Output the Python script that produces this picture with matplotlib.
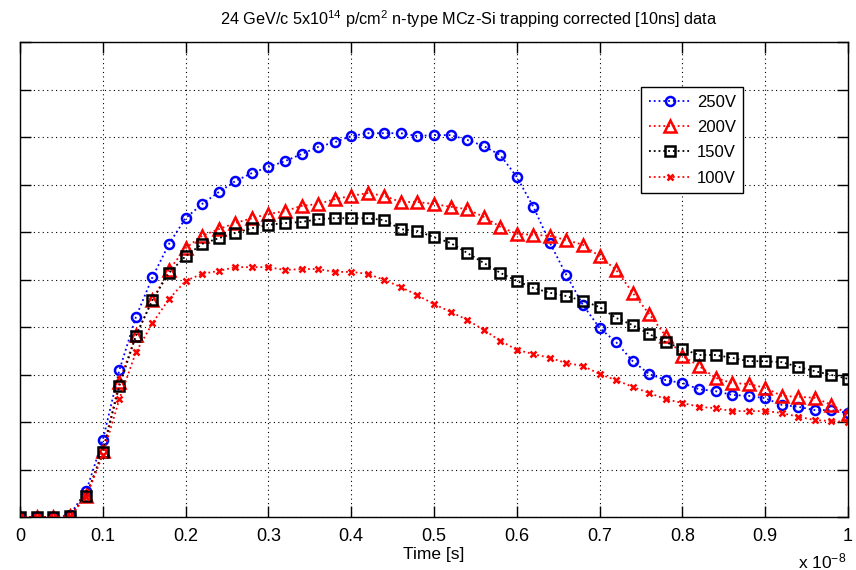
import numpy as np
import matplotlib
matplotlib.use('Agg')
import matplotlib.pyplot as plt
from matplotlib.ticker import FuncFormatter

plt.rcParams['font.family'] = ['Liberation Sans', 'DejaVu Sans']
plt.rcParams['mathtext.fontset'] = 'custom'
plt.rcParams['mathtext.rm'] = 'Liberation Sans'
plt.rcParams['mathtext.it'] = 'Liberation Sans'

# time axis, 0.2 ns steps up to 10 ns
time = np.linspace(0, 1e-8, 51)

# signal (arbitrary units, y labels are cut off in the original)
v250 = [0, 0, 0, 0.04, 0.55, 1.62, 3.09, 4.21, 5.05, 5.75, 6.29, 6.59, 6.84, 7.07, 7.24, 7.37, 7.49,
        7.64, 7.79, 7.89, 8.02, 8.08, 8.08, 8.08, 8.02, 8.04, 8.04, 7.94, 7.81, 7.62, 7.16, 6.53, 5.77,
        5.09, 4.46, 3.98, 3.68, 3.28, 3.01, 2.88, 2.82, 2.69, 2.65, 2.57, 2.55, 2.50, 2.36, 2.32, 2.25,
        2.25, 2.19]
v200 = [0, 0, 0, 0.02, 0.44, 1.39, 2.84, 3.83, 4.57, 5.20, 5.66, 5.92, 6.06, 6.19, 6.29, 6.38, 6.44,
        6.55, 6.59, 6.69, 6.76, 6.82, 6.76, 6.63, 6.63, 6.59, 6.53, 6.48, 6.32, 6.11, 5.96, 5.94, 5.92,
        5.83, 5.73, 5.49, 5.20, 4.72, 4.27, 3.81, 3.39, 3.18, 2.93, 2.82, 2.80, 2.72, 2.55, 2.53, 2.51,
        2.36, 2.17]
v150 = [0, 0, 0, 0.02, 0.44, 1.37, 2.76, 3.81, 4.57, 5.14, 5.49, 5.75, 5.87, 5.98, 6.08, 6.15, 6.19,
        6.21, 6.27, 6.29, 6.29, 6.29, 6.25, 6.06, 6.02, 5.89, 5.77, 5.56, 5.35, 5.14, 4.97, 4.82, 4.72,
        4.65, 4.55, 4.42, 4.19, 4.04, 3.85, 3.68, 3.54, 3.41, 3.41, 3.35, 3.28, 3.28, 3.26, 3.16, 3.07,
        2.99, 2.91]
v100 = [0, 0, 0, 0.02, 0.42, 1.31, 2.48, 3.47, 4.08, 4.59, 4.97, 5.12, 5.18, 5.26, 5.26, 5.26, 5.20,
        5.22, 5.22, 5.16, 5.16, 5.12, 4.99, 4.84, 4.67, 4.48, 4.32, 4.15, 3.94, 3.71, 3.52, 3.43, 3.35,
        3.24, 3.18, 3.01, 2.88, 2.74, 2.61, 2.48, 2.40, 2.32, 2.29, 2.23, 2.23, 2.23, 2.19, 2.11, 2.04,
        2.02, 2.00]

fig = plt.figure(figsize=(8.56, 5.70), dpi=100)
ax = fig.add_axes([20/856, 53/570, 828/856, 475/570])

ax.plot(time, v250, ':', color='blue', lw=1.3, marker='o', ms=6.5, mfc='none', mec='blue', mew=1.8, label='250V')
ax.plot(time, v200, ':', color='red', lw=1.3, marker='^', ms=8, mfc='none', mec='red', mew=1.8, label='200V')
ax.plot(time, v150, ':', color='black', lw=1.3, marker='s', ms=7, mfc='none', mec='black', mew=1.8, label='150V')
ax.plot(time, v100, ':', color='red', lw=1.3, marker='x', ms=5, mec='red', mew=1.8, label='100V')

ax.set_xlim(0, 1e-8)
ax.set_ylim(0, 10)
ax.set_xticks(np.linspace(0, 1e-8, 11))
ax.set_yticks(np.arange(0, 11, 1))
ax.xaxis.set_major_formatter(FuncFormatter(lambda v, p: '%g' % round(v * 1e8, 3)))
ax.set_yticklabels([])
ax.tick_params(direction='in', length=8, width=1, top=True, right=True, labelsize=13, pad=8)
ax.grid(True, linestyle=(0, (1, 3)), color='black', lw=0.8)
for s in ax.spines.values():
    s.set_linewidth(1)

ax.set_title(r'24 GeV/c 5x10$^{14}$ p/cm$^{2}$ n-type MCz-Si trapping corrected [10ns] data',
             fontsize=11.7, pad=12, x=0.542)
ax.set_xlabel('Time [s]', fontsize=12.5, labelpad=1)
ax.text(0.998, -0.093, r'x 10$^{-8}$', transform=ax.transAxes, ha='right', va='center', fontsize=12.5)

leg = ax.legend(loc='upper left', bbox_to_anchor=(0.75, 0.905), fontsize=12, frameon=True,
                fancybox=False, edgecolor='black', framealpha=1, handlelength=2.6,
                borderpad=0.45, labelspacing=0.62, handletextpad=0.3, borderaxespad=0)
leg.get_frame().set_linewidth(1)

fig.savefig('out.png', dpi=100)
